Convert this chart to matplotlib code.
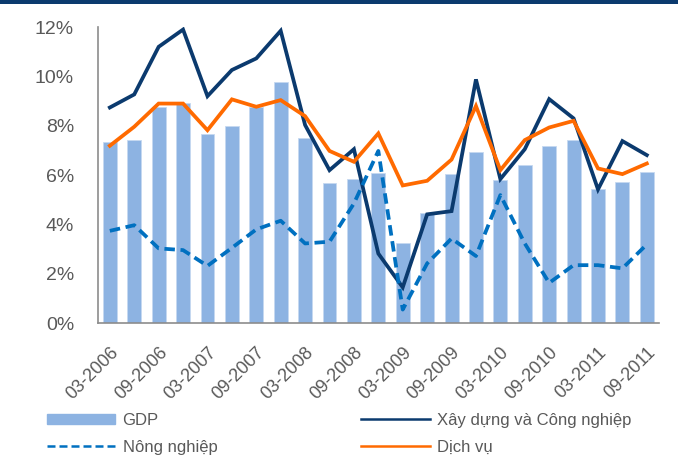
import numpy as np
import matplotlib.pyplot as plt
from matplotlib.patches import Patch
from matplotlib.lines import Line2D

plt.rcParams['font.family'] = ['Liberation Sans', 'DejaVu Sans']

quarters = ['03-2006', '06-2006', '09-2006', '12-2006',
            '03-2007', '06-2007', '09-2007', '12-2007',
            '03-2008', '06-2008', '09-2008', '12-2008',
            '03-2009', '06-2009', '09-2009', '12-2009',
            '03-2010', '06-2010', '09-2010', '12-2010',
            '03-2011', '06-2011', '09-2011']

gdp = [7.35, 7.43, 8.78, 8.92, 7.67, 8.01, 8.76, 9.78, 7.51, 5.67, 5.85, 6.07,
       3.23, 4.45, 6.05, 6.92, 5.81, 6.42, 7.19, 7.41, 5.43, 5.72, 6.13]
cong_nghiep = [8.74, 9.27, 11.2, 11.9, 9.2, 10.26, 10.73, 11.85, 8.03, 6.2, 7.05, 2.82,
               1.45, 4.41, 4.54, 9.88, 5.84, 7.05, 9.08, 8.3, 5.42, 7.38, 6.81]
nong_nghiep = [3.74, 3.97, 3.03, 2.96, 2.32, 3.05, 3.8, 4.15, 3.23, 3.3, 4.85, 6.98,
               0.55, 2.42, 3.43, 2.72, 5.19, 3.23, 1.63, 2.35, 2.35, 2.22, 3.19]
dich_vu = [7.19, 7.96, 8.9, 8.9, 7.82, 9.07, 8.77, 9.04, 8.39, 6.98, 6.54, 7.69,
           5.58, 5.77, 6.63, 8.8, 6.2, 7.42, 7.93, 8.2, 6.27, 6.04, 6.47]

navy = '#0b3a6e'
orange = '#ff6a00'
blue = '#0070c0'
bar_color = '#8db3e2'
grey = '#595959'

x = np.arange(len(quarters))

fig = plt.figure(figsize=(6.78, 4.59), dpi=100)
ax = fig.add_axes([0.144, 0.296, 0.828, 0.645])

ax.bar(x, gdp, 0.57, color=bar_color, edgecolor='#c5d9f1', linewidth=0.6)
ax.plot(x, cong_nghiep, color=navy, lw=2.7, solid_joinstyle='miter')
ax.plot(x, nong_nghiep, color=blue, lw=2.7, dashes=(2.8, 1.5))
ax.plot(x, dich_vu, color=orange, lw=2.7, solid_joinstyle='miter')

ax.set_xlim(-0.5, len(quarters) - 0.5)
ax.set_ylim(0, 12)
ax.set_yticks(np.arange(0, 13, 2))
ax.set_yticklabels(['%d%%' % v for v in range(0, 13, 2)])
ax.set_xticks(x[::2])
ax.set_xticklabels(quarters[::2], rotation=45, ha='right', rotation_mode='anchor')
ax.tick_params(axis='both', length=0, colors=grey)
ax.tick_params(axis='y', pad=17, labelsize=14)
ax.tick_params(axis='x', pad=15, labelsize=13)

for s in ['top', 'right']:
    ax.spines[s].set_visible(False)
for s in ['left', 'bottom']:
    ax.spines[s].set_color('#8c8c8c')
    ax.spines[s].set_linewidth(1.2)

# thin navy band along the top edge
fig.add_artist(plt.Rectangle((0, 0.992), 1, 0.008, transform=fig.transFigure,
                             color=navy, lw=0))

leg_opts = dict(loc='upper left', frameon=False, fontsize=12, borderpad=0,
                borderaxespad=0, handlelength=4.1, handleheight=0.55,
                labelspacing=0.72, handletextpad=0.45, labelcolor=grey)
leg1 = fig.legend([Patch(color=bar_color),
                   Line2D([], [], color=blue, lw=1.8, dashes=(3.2, 1.6))],
                  ['GDP', 'Nông nghiệp'],
                  bbox_to_anchor=(0.069, 0.101), **leg_opts)
leg2 = fig.legend([Line2D([], [], color=navy, lw=1.8),
                   Line2D([], [], color=orange, lw=1.8)],
                  ['Xây dựng và Công nghiệp', 'Dịch vụ'],
                  bbox_to_anchor=(0.533, 0.101), **leg_opts)

plt.savefig('out.png', dpi=100)
